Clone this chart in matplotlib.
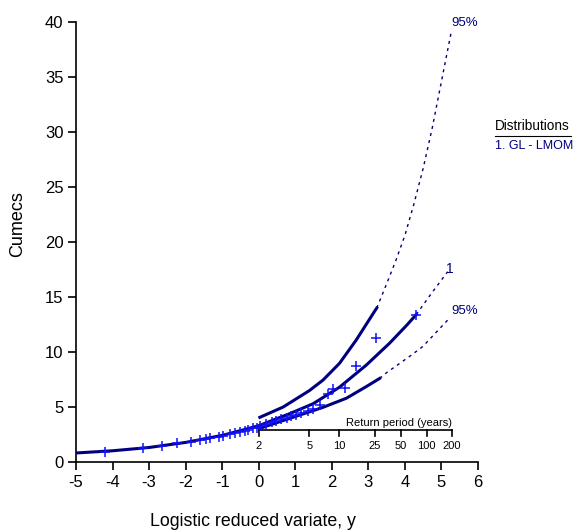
import numpy as np
import matplotlib
matplotlib.use("Agg")
from matplotlib import pyplot as plt

plt.rcParams['font.family'] = ['Liberation Sans', 'DejaVu Sans']
plt.rcParams['axes.unicode_minus'] = False

navy = '#00007f'
blue = '#1010ff'

# fitted GL curve (solid part) and its dashed extension
fit_x = [-5, -4, -3, -2, -1, -0.5, 0, 0.85, 1.49, 2.21, 2.94, 3.58, 4.04, 4.31]
fit_y = [0.82, 1.02, 1.32, 1.78, 2.42, 2.85, 3.3, 4.4, 5.3, 6.8, 8.8, 10.8, 12.4, 13.4]
fit_ext_x = [4.31, 4.72, 5.17]
fit_ext_y = [13.4, 15.3, 17.3]

# upper 95% confidence limit
up_x = [0.03, 0.67, 1.39, 1.76, 2.21, 2.67, 3.17, 3.23]
up_y = [4.06, 5.0, 6.5, 7.45, 8.97, 11.1, 13.7, 14.0]
up_ext_x = [3.23, 3.5, 3.75, 4.0, 4.25, 4.5, 4.75, 5.0, 5.28]
up_ext_y = [14.0, 16.2, 18.3, 20.6, 23.5, 26.7, 30.4, 34.6, 39.3]

# lower 95% confidence limit
lo_x = [0.03, 0.85, 1.76, 2.4, 2.94, 3.31]
lo_y = [3.06, 3.97, 4.97, 5.8, 6.85, 7.6]
lo_ext_x = [3.31, 3.49, 4.17, 4.49, 5.17]
lo_ext_y = [7.6, 8.1, 9.7, 10.5, 12.9]

# observed data (plotting positions)
obs_x = [-4.22, -3.18, -2.66, -2.25, -1.84, -1.61, -1.43, -1.33, -1.1, -0.97, -0.79,
         -0.66, -0.52, -0.38, -0.29, -0.15, -0.06, 0.03, 0.21, 0.35, 0.48, 0.62, 0.76,
         0.89, 1.03, 1.17, 1.35, 1.49, 1.67, 1.9, 2.03, 2.35, 2.67, 3.22, 4.29]
obs_y = [0.88, 1.3, 1.48, 1.7, 1.85, 2.0, 2.1, 2.15, 2.3, 2.4, 2.55,
         2.65, 2.75, 2.85, 2.95, 3.05, 3.1, 3.25, 3.45, 3.6, 3.75, 3.9, 4.0,
         4.15, 4.3, 4.45, 4.65, 4.85, 5.2, 6.2, 6.6, 6.7, 8.7, 11.3, 13.4]

return_periods = [2, 5, 10, 25, 50, 100, 200]
rp_axis_level = 2.9

fig = plt.figure(figsize=(5.82, 5.30), dpi=100)
ax = fig.add_axes([0.1306, 0.1283, 0.6907, 0.8302])

dash = (0, (2.2, 3))
ax.plot(fit_x, fit_y, color=navy, lw=2.2, zorder=3)
ax.plot(fit_ext_x, fit_ext_y, color=navy, lw=1, linestyle=dash)
ax.plot(up_x, up_y, color=navy, lw=2.2, zorder=3)
ax.plot(up_ext_x, up_ext_y, color=navy, lw=1, linestyle=dash)
ax.plot(lo_x, lo_y, color=navy, lw=2.2, zorder=3)
ax.plot(lo_ext_x, lo_ext_y, color=navy, lw=1, linestyle=dash)
ax.plot(obs_x, obs_y, linestyle='none', marker='+', markersize=6.5, mew=1.1,
        color=blue, zorder=4)

ax.text(5.27, 39.9, '95%', color=navy, fontsize=9.5, ha='left', va='center')
ax.text(5.12, 17.5, '1', color=navy, fontsize=10, ha='left', va='center')
ax.text(5.27, 13.7, '95%', color=navy, fontsize=9.5, ha='left', va='center')

# return period scale
rp_pos = np.log(np.array(return_periods) - 1.0)
ax.plot([rp_pos[0], rp_pos[-1]], [rp_axis_level, rp_axis_level], color='black', lw=1.2)
for p, t in zip(rp_pos, return_periods):
    ax.plot([p, p], [rp_axis_level, rp_axis_level - 0.55], color='black', lw=1.2)
    ax.text(p, 1.5, str(t), fontsize=8, ha='center', va='center')
ax.text(3.84, 3.55, 'Return period (years)', fontsize=8, ha='center', va='center')

ax.set_xlim(-5, 6)
ax.set_ylim(0, 40)
ax.set_xticks(range(-5, 7))
ax.set_yticks(range(0, 41, 5))
for s in ['top', 'right']:
    ax.spines[s].set_visible(False)
for s in ['left', 'bottom']:
    ax.spines[s].set_linewidth(1.2)
ax.tick_params(direction='out', length=6, width=1.2, labelsize=12, pad=3)

fig.text(253 / 582, 1 - 522 / 530, 'Logistic reduced variate, y', fontsize=12.8,
         ha='center', va='center')
fig.text(18 / 582, 1 - 224 / 530, 'Cumecs', fontsize=13, rotation=90,
         ha='center', va='center')

# legend block
fig.text(495 / 582, 1 - 126 / 530, 'Distributions', fontsize=9.8, ha='left', va='center')
fig.add_artist(plt.Line2D([495 / 582, 571 / 582], [1 - 136 / 530, 1 - 136 / 530],
                          color='black', lw=0.8))
fig.text(495 / 582, 1 - 146 / 530, '1. GL - LMOM', fontsize=9, color=navy,
         ha='left', va='center')

fig.savefig('out.png', dpi=100)
